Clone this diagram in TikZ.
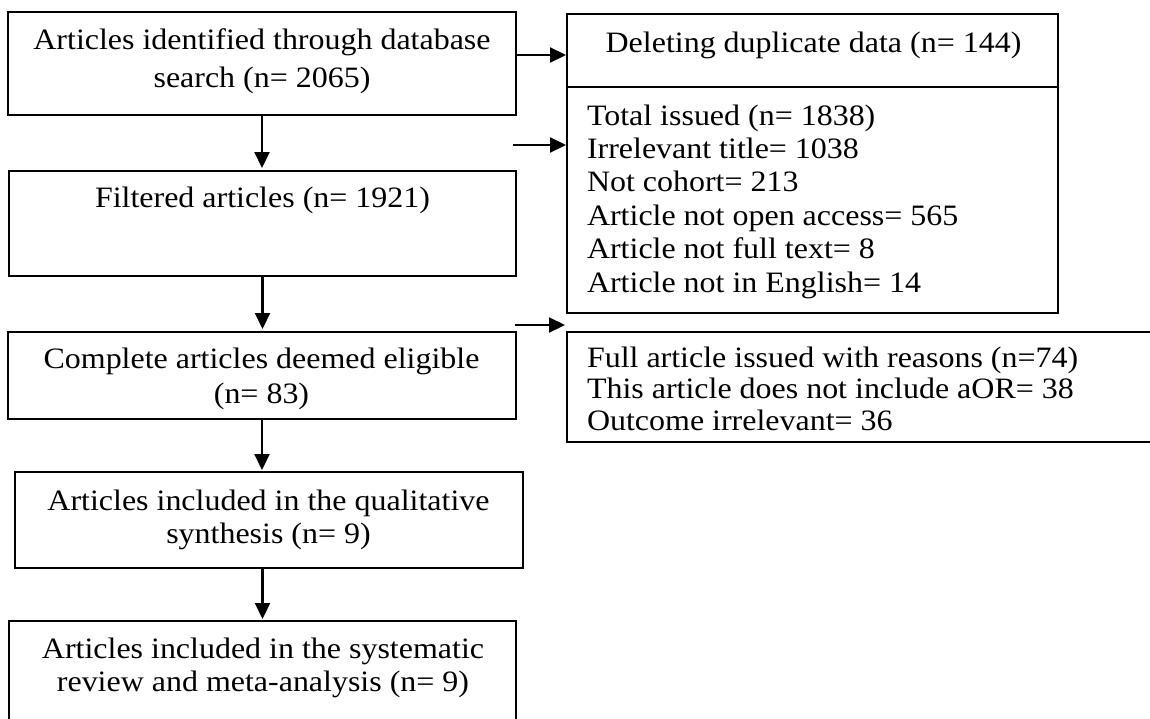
\documentclass[tikz,border=0pt]{standalone}
\usepackage{fontspec}
\setmainfont{Liberation Serif}[FakeStretch=1.08]
\usetikzlibrary{arrows.meta}
\begin{document}
\begin{tikzpicture}[x=1pt,y=-1pt,
  box/.style={draw, line width=2.6pt, rectangle, inner sep=0pt, outer sep=0pt, anchor=north west},
  txt/.style={inner sep=0pt, outer sep=0pt},
  arr/.style={line width=2.2pt, -{Triangle[length=16pt,width=15pt]}}]
\clip (0,0) rectangle (1150,718);
\fill[white] (0,0) rectangle (1150,718);
% left column boxes
\node[box, minimum width=508pt, minimum height=103pt] (box1) at (8,12) {};
\node[box, minimum width=507pt, minimum height=105pt] (box2) at (9,171) {};
\node[box, minimum width=508pt, minimum height=87pt] (box3) at (8,332) {};
\node[box, minimum width=508pt, minimum height=96pt] (box4) at (15,472) {};
\node[box, minimum width=507pt, minimum height=140pt] (box5) at (9,621) {};
% right column boxes
\node[box, minimum width=491pt, minimum height=73pt] (boxA) at (567,14) {};
\node[box, minimum width=491pt, minimum height=226pt] (boxB) at (567,87) {};
\node[box, minimum width=600pt, minimum height=110pt] (boxC) at (567,332) {};
% texts (anchor base = baseline of the last line)
\node[txt, anchor=base, align=center, font=\fontsize{29.6}{38}\selectfont] (t1) at (262,87)
  {Articles identified through database\\search (n= 2065)};
\node[txt, anchor=base, font=\fontsize{29.6}{38}\selectfont] (t2) at (262.5,207)
  {Filtered articles (n= 1921)};
\node[txt, anchor=base, align=center, font=\fontsize{29.6}{35}\selectfont] (t3) at (261.5,403)
  {Complete articles deemed eligible\\(n= 83)};
\node[txt, anchor=base, align=center, font=\fontsize{29.6}{33}\selectfont] (t4) at (268.5,543)
  {Articles included in the qualitative\\synthesis (n= 9)};
\node[txt, anchor=base, align=center, font=\fontsize{29.6}{33}\selectfont] (t5) at (263,691)
  {Articles included in the systematic\\review and meta-analysis (n= 9)};
\node[txt, anchor=base, font=\fontsize{29.6}{38}\selectfont] (tA) at (813.5,52)
  {Deleting duplicate data (n= 144)};
\node[txt, anchor=base west, align=left, font=\fontsize{29.6}{33.4}\selectfont] (tB) at (587,292)
  {Total issued (n= 1838)\\Irrelevant title= 1038\\Not cohort= 213\\Article not open access= 565\\Article not full text= 8\\Article not in English= 14};
\node[txt, anchor=base west, align=left, font=\fontsize{29.6}{31.5}\selectfont] (tC) at (587,430)
  {Full article issued with reasons (n=74)\\This article does not include aOR= 38\\Outcome irrelevant= 36};
% vertical connectors
\draw[arr, shorten >=3pt] (box1.south) -- (box1.south |- box2.north);
\draw[arr, shorten >=3pt] (box2.south) -- (box2.south |- box3.north);
\draw[arr, shorten >=2pt] (box3.south) -- (box3.south |- box4.north);
\draw[arr, shorten >=2pt] (box4.south -| box5.north) -- (box5.north);
% horizontal connectors
\coordinate (s1) at (516,55);
\coordinate (s2) at (513,145);
\coordinate (s3) at (515,325);
\draw[arr, shorten >=1pt] (box1.east |- s1) -- (boxA.west |- s1);
\draw[arr, shorten >=1pt] (s2) -- (boxB.west |- s2);
\draw[arr, shorten >=2pt] (s3) -- (boxC.north west |- s3);
\end{tikzpicture}
\end{document}
